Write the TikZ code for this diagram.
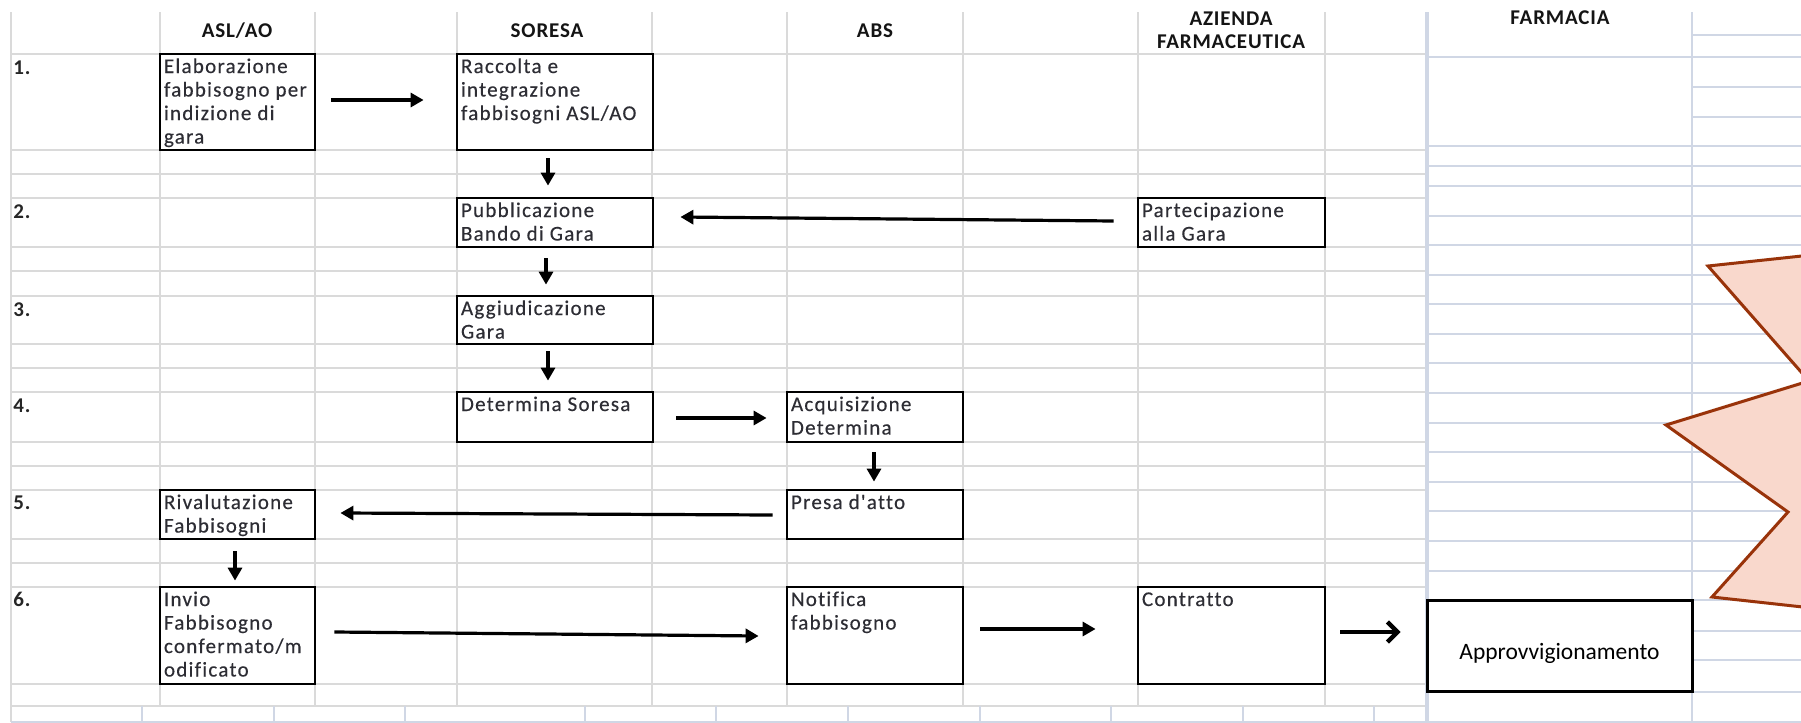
\documentclass[tikz,border=0pt]{standalone}
\usepackage{fontspec}
\setmainfont{Carlito}
\newfontfamily\bodyfont[LetterSpace=6,FakeBold=0.3,Ligatures={TeXOff,NoCommon}]{Carlito}
\newfontfamily\headfont[LetterSpace=4,Ligatures={TeXOff,NoCommon}]{Carlito}
\usetikzlibrary{arrows.meta,fit,calc}
\definecolor{gridgray}{RGB}{218,218,218}
\definecolor{gridblue}{RGB}{208,215,229}
\definecolor{txtcol}{RGB}{45,45,52}
\definecolor{starfill}{RGB}{249,216,204}
\definecolor{stardraw}{RGB}{153,51,10}
\newcommand\firstst{\rule{0pt}{8.5pt}}
\begin{document}
\begin{tikzpicture}[x=0.5pt,y=-0.5pt,
  gline/.style={draw=gridgray,line width=1pt},
  bline/.style={draw=gridblue,line width=1pt},
  box/.style={draw=black,fill=white,line width=1.4pt,inner sep=0pt},
  txt/.style={inner sep=0pt,anchor=north west,align=left,text=txtcol,
    font=\bodyfont\fontsize{10.5pt}{11.75pt}\selectfont},
  hdr/.style={inner sep=0pt,align=center,text=black!92,
    font=\headfont\bfseries\fontsize{10.5pt}{11.5pt}\selectfont},
  lbl/.style={inner sep=0pt,anchor=base west,text=black!85,
    font=\headfont\bfseries\fontsize{10.5pt}{11.5pt}\selectfont},
  arr/.style={line width=1.6pt,-{Triangle[length=6.5pt,width=7pt]}},
  bigarr/.style={line width=2.2pt,-{Straight Barb[length=5pt,width=10pt]}},
  star/.style={draw=stardraw,fill=starfill,line width=1.5pt,line join=miter}]
\useasboundingbox (0,0) rectangle (1801,723);
\fill[white] (0,0) rectangle (1801,723);
% ---- left table grid
\foreach \y in {54,150,174,198,247,271,296,344,368,392,442,466,490,539,563,587,684,706}
  \draw[gline] (11,\y) -- (1427,\y);
\foreach \x in {160,315,457,652,787,963,1138,1325}
  \draw[gline] (\x,12) -- (\x,706);
\draw[gline] (11,12) -- (11,722);
\foreach \x in {142,274,405,585,716,848,980,1111,1243,1374}
  \draw[bline] (\x,706) -- (\x,722);
\draw[bline] (11,722) -- (1801,722);
% ---- right region grid
\foreach \y in {57,146,166,186,216,245,275,304,334,363,393,423,452,482,511,541,571}
  \draw[bline] (1427,\y) -- (1692,\y);
\foreach \y in {35,57,87,117,146,166,186,216,245,275,304,334,363,393,423,452,482,511,541,571,600,631,660,692}
  \draw[bline] (1692,\y) -- (1801,\y);
\draw[bline,line width=1.6pt] (1427,12) -- (1427,723);
\draw[bline] (1692,12) -- (1692,723);
% ---- starburst
\begin{scope}
  \clip (0,0) rectangle (1801,723);
  \draw[star] (1830,253) -- (1708,266) -- (1809,381) -- (1666,425) -- (1788,512) -- (1712,597) -- (1830,610) -- cycle;
\end{scope}
% ---- headers
\node[hdr] (hasl) at (237,31) {ASL/AO};
\node[hdr] (hsor) at (547,31) {SORESA};
\node[hdr] (habs) at (875,31) {ABS};
\node[hdr] (haz) at (1231,30.5) {AZIENDA\\FARMACEUTICA};
\node[hdr] (hfar) at (1560,18) {FARMACIA};
% ---- row labels
\node[lbl] (r1) at (13,74) {1.};
\node[lbl] (r2) at (13,218) {2.};
\node[lbl] (r3) at (13,316) {3.};
\node[lbl] (r4) at (13,412) {4.};
\node[lbl] (r5) at (13,509) {5.};
\node[lbl] (r6) at (13,606) {6.};
% ---- boxes
\node[box,fit={(160,54) (315,150)}] (elab) {};
\node[box,fit={(457,54) (653,150)}] (racc) {};
\node[box,fit={(457,198) (653,247)}] (pubb) {};
\node[box,fit={(1138,198) (1325,247)}] (part) {};
\node[box,fit={(457,296) (653,344)}] (aggi) {};
\node[box,fit={(457,392) (653,442)}] (det) {};
\node[box,fit={(787,392) (963,442)}] (acq) {};
\node[box,fit={(160,490) (315,539)}] (riv) {};
\node[box,fit={(787,490) (963,539)}] (presa) {};
\node[box,fit={(160,587) (315,684)}] (invio) {};
\node[box,fit={(787,587) (963,684)}] (notif) {};
\node[box,fit={(1138,587) (1325,684)}] (contr) {};
\node[box,line width=1.5pt,fit={(1427,600) (1692,691)}] (appr) {};
% ---- box texts
\node[txt] (telab) at ([shift={(5,3)}]elab.north west) {\firstst Elaborazione\\fabbisogno per\\indizione di\\gara};
\node[txt] (tracc) at ([shift={(5,3)}]racc.north west) {\firstst Raccolta e\\integrazione\\fabbisogni ASL/AO};
\node[txt] (tpubb) at ([shift={(5,3)}]pubb.north west) {\firstst Pubblicazione\\Bando di Gara};
\node[txt] (tpart) at ([shift={(5,3)}]part.north west) {\firstst Partecipazione\\alla Gara};
\node[txt] (taggi) at ([shift={(5,3)}]aggi.north west) {\firstst Aggiudicazione\\Gara};
\node[txt] (tdet) at ([shift={(5,3)}]det.north west) {\firstst Determina Soresa};
\node[txt] (tacq) at ([shift={(5,3)}]acq.north west) {\firstst Acquisizione\\Determina};
\node[txt] (triv) at ([shift={(5,3)}]riv.north west) {\firstst Rivalutazione\\Fabbisogni};
\node[txt] (tpresa) at ([shift={(5,3)}]presa.north west) {\firstst Presa d'atto};
\node[txt] (tinvio) at ([shift={(5,3)}]invio.north west) {\firstst Invio\\Fabbisogno\\confermato/m\\odificato};
\node[txt] (tnotif) at ([shift={(5,3)}]notif.north west) {\firstst Notifica\\fabbisogno};
\node[txt] (tcontr) at ([shift={(5,3)}]contr.north west) {\firstst Contratto};
\node[inner sep=0pt,font=\fontsize{11.75pt}{14pt}\selectfont] (tappr) at ([yshift=-4]appr.center) {Approvvigionamento};
% ---- arrows
\draw[arr] ([shift={(15,-2)}]elab.east) -- ([shift={(-32,-2)}]racc.west);
\draw[arr] ([shift={(-7,7)}]racc.south) -- ([shift={(-7,-11)}]pubb.north);
\draw[arr] ([shift={(-9,10)}]pubb.south) -- ([shift={(-9,-10)}]aggi.north);
\draw[arr] ([shift={(-7,6)}]aggi.south) -- ([shift={(-7,-10)}]det.north);
\draw[arr] ([shift={(-23,-1.5)}]part.west) -- ([shift={(26,-5.5)}]pubb.east);
\draw[arr] ([shift={(22,1)}]det.east) -- ([shift={(-19,1)}]acq.west);
\draw[arr] ([shift={(-1,9)}]acq.south) -- ([shift={(-1,-7)}]presa.north);
\draw[arr] ([shift={(-13,0.5)}]presa.west) -- ([shift={(24,-1.5)}]riv.east);
\draw[arr] ([shift={(-2.5,11)}]riv.south) -- ([shift={(-2.5,-5)}]invio.north);
\draw[arr] ([shift={(18,-3.5)}]invio.east) -- ([shift={(-27,0.5)}]notif.west);
\draw[arr] ([shift={(16,-6.5)}]notif.east) -- ([shift={(-41,-6.5)}]contr.west);
\draw[bigarr] ([shift={(14,-3.5)}]contr.east) -- ([shift={(-25,-13.5)}]appr.west);
\end{tikzpicture}
\end{document}
